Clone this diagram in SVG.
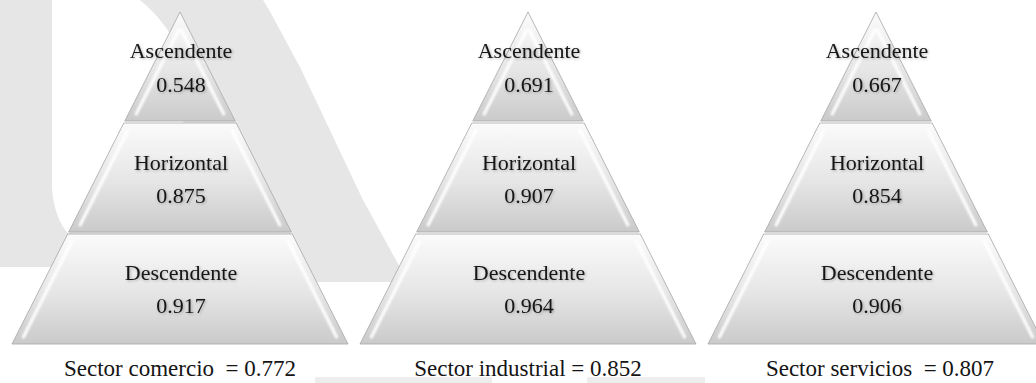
<svg xmlns="http://www.w3.org/2000/svg" width="1036" height="383" viewBox="0 0 1036 383">
  <style>
    .bg { fill: #e6e6e6; }
    .hole { fill: #ffffff; }
    .strip { fill: #ededed; }
    .tier { fill: url(#tierFace); stroke: #a6a6a6; stroke-width: 0.8; }
    .ridge { fill: none; stroke: #ffffff; stroke-width: 3; stroke-linecap: round; filter: url(#soft); }
    .ridgeTop { fill: none; stroke: #ffffff; stroke-width: 3; stroke-opacity: 0.7; filter: url(#soft); }
    .shade { fill: none; stroke: #b9b9b9; stroke-width: 3; stroke-opacity: 0.7; filter: url(#soft); }
    .lbl { font-family: "Liberation Serif", "Times New Roman", serif; font-size: 22px; fill: #141414; text-anchor: middle; filter: url(#textShadow); }
    .cap { font-family: "Liberation Serif", "Times New Roman", serif; font-size: 23px; fill: #141414; text-anchor: middle; }
  </style>
  <defs>
    <linearGradient id="tierFace" x1="0" y1="0" x2="0" y2="1">
      <stop offset="0" stop-color="#fbfbfb"/>
      <stop offset="0.55" stop-color="#e5e5e5"/>
      <stop offset="1" stop-color="#cacaca"/>
    </linearGradient>
    <filter id="soft" x="-20%" y="-20%" width="140%" height="140%">
      <feGaussianBlur stdDeviation="1"/>
    </filter>
    <filter id="textShadow" x="-10%" y="-30%" width="120%" height="160%">
      <feGaussianBlur in="SourceAlpha" stdDeviation="1.6" result="b"/>
      <feOffset in="b" dx="1" dy="1" result="o"/>
      <feComponentTransfer in="o" result="s">
        <feFuncA type="linear" slope="0.3"/>
      </feComponentTransfer>
      <feMerge>
        <feMergeNode in="s"/>
        <feMergeNode in="SourceGraphic"/>
      </feMerge>
    </filter>

    <!-- tier shapes drawn around x = 0; each pyramid places them with a translate -->
    <g id="tierTop">
      <path class="tier" d="M0,12 L55.2,121 L-55.2,121 Z"/>
      <path class="shade" d="M-42,114 L42,114"/>
      <path class="ridge" d="M-1.3,30 L-43.8,114 M1.3,30 L43.8,114"/>
    </g>
    <g id="tierMid">
      <path class="tier" d="M-56.2,123 L56.2,123 L111.3,232 L-111.3,232 Z"/>
      <path class="ridgeTop" d="M-51.9,130 L51.9,130"/>
      <path class="shade" d="M-98,225 L98,225"/>
      <path class="ridge" d="M-51.9,130 L-99.9,225 M51.9,130 L99.9,225"/>
    </g>
    <g id="tierBot">
      <path class="tier" d="M-112.3,234 L112.3,234 L168,344 L-168,344 Z"/>
      <path class="ridgeTop" d="M-108,241 L108,241"/>
      <path class="shade" d="M-155,337 L155,337"/>
      <path class="ridge" d="M-108,241 L-156.6,337 M108,241 L156.6,337"/>
    </g>
  </defs>

  <!-- backdrop emblem -->
  <g id="backdrop">
    <path class="bg" d="M0,0 L263,0 C272,14 282,34 300,67 L363,200 L408,282 L200,282 L200,267 L0,267 Z"/>
    <path class="hole" d="M52,0 L140,0 C200,50 230,150 68,233 C60,226 52,205 52,185 Z"/>
    <rect class="strip" x="315" y="377" width="177" height="6"/>
    <rect class="strip" x="587" y="377" width="118" height="6"/>
  </g>

  <g id="connectors"/>

  <!-- Sector comercio -->
  <g id="pyramid-comercio" transform="translate(180,0)">
    <g id="comercio-ascendente">
      <use href="#tierTop"/>
      <text class="lbl" x="1" y="58">Ascendente</text>
      <text class="lbl" x="1" y="92">0.548</text>
    </g>
    <g id="comercio-horizontal">
      <use href="#tierMid"/>
      <text class="lbl" x="1" y="170">Horizontal</text>
      <text class="lbl" x="1" y="203">0.875</text>
    </g>
    <g id="comercio-descendente">
      <use href="#tierBot"/>
      <text class="lbl" x="1" y="280">Descendente</text>
      <text class="lbl" x="1" y="313">0.917</text>
    </g>
    <text class="cap" x="0" y="376" xml:space="preserve">Sector comercio  = 0.772</text>
  </g>

  <!-- Sector industrial -->
  <g id="pyramid-industrial" transform="translate(528,0)">
    <g id="industrial-ascendente">
      <use href="#tierTop"/>
      <text class="lbl" x="1" y="58">Ascendente</text>
      <text class="lbl" x="1" y="92">0.691</text>
    </g>
    <g id="industrial-horizontal">
      <use href="#tierMid"/>
      <text class="lbl" x="1" y="170">Horizontal</text>
      <text class="lbl" x="1" y="203">0.907</text>
    </g>
    <g id="industrial-descendente">
      <use href="#tierBot"/>
      <text class="lbl" x="1" y="280">Descendente</text>
      <text class="lbl" x="1" y="313">0.964</text>
    </g>
    <text class="cap" x="0" y="376">Sector industrial = 0.852</text>
  </g>

  <!-- Sector servicios -->
  <g id="pyramid-servicios" transform="translate(876,0)">
    <g id="servicios-ascendente">
      <use href="#tierTop"/>
      <text class="lbl" x="1" y="58">Ascendente</text>
      <text class="lbl" x="1" y="92">0.667</text>
    </g>
    <g id="servicios-horizontal">
      <use href="#tierMid"/>
      <text class="lbl" x="1" y="170">Horizontal</text>
      <text class="lbl" x="1" y="203">0.854</text>
    </g>
    <g id="servicios-descendente">
      <use href="#tierBot"/>
      <text class="lbl" x="1" y="280">Descendente</text>
      <text class="lbl" x="1" y="313">0.906</text>
    </g>
    <text class="cap" x="4" y="376" xml:space="preserve">Sector servicios  = 0.807</text>
  </g>
</svg>
